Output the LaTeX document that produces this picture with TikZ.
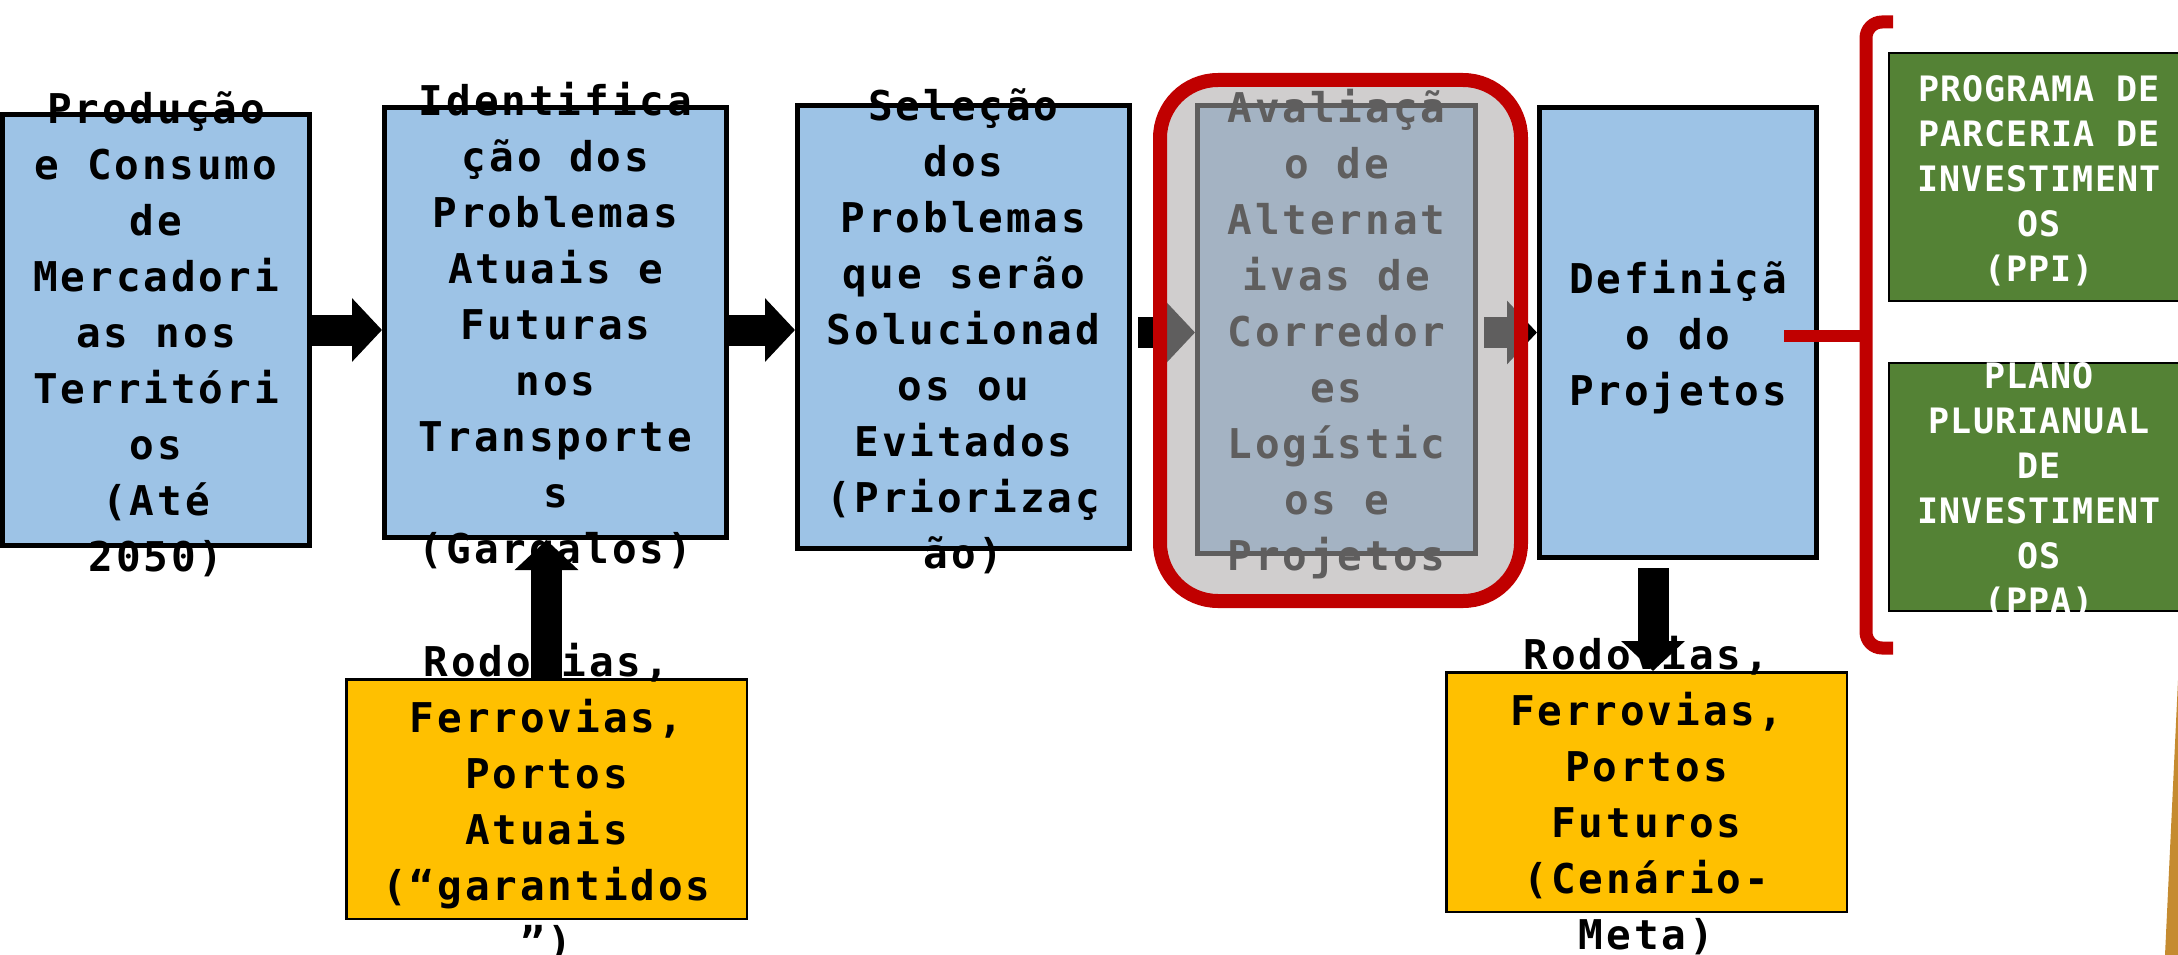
\documentclass[tikz,border=0pt]{standalone}
\usepackage{fontspec}
\usetikzlibrary{arrows.meta}
\newfontfamily\blkfont[LetterSpace=7.1]{DejaVu Sans Mono}
\newfontfamily\grnfont[LetterSpace=3.2]{DejaVu Sans Mono}
\definecolor{boxblue}{HTML}{9DC3E6}
\definecolor{boxorange}{HTML}{FFC000}
\definecolor{boxgreen}{HTML}{548235}
\definecolor{hlred}{HTML}{C00000}
\definecolor{veilc}{RGB}{171,168,168}
\definecolor{tanc}{RGB}{197,139,48}
\newcommand\bstrut{\vrule width0pt height44pt depth10pt\relax}
\newcommand\gstrut{\vrule width0pt height36pt depth8pt\relax}
\begin{document}
\begin{tikzpicture}[x=1pt,y=-1pt,
  shapebox/.style={rectangle, inner sep=0pt},
  bluebox/.style={shapebox, draw=black, line width=5pt, fill=boxblue},
  orangebox/.style={shapebox, draw=black, line width=2.5pt, fill=boxorange},
  greenbox/.style={shapebox, draw=black, line width=2pt, fill=boxgreen},
  veil/.style={shapebox, draw=hlred, line width=14pt, fill=veilc, fill opacity=0.56, rounded corners=58pt},
  btext/.style={inner sep=0pt, align=center, text=black, font=\blkfont\bfseries\fontsize{41}{56}\selectfont},
  gtext/.style={inner sep=0pt, align=center, text=white, font=\grnfont\bfseries\fontsize{35}{45}\selectfont},
  blockarrow/.style={draw=black, line width=31pt, -{Triangle[length=30pt, width=62pt]}},
  redline/.style={draw=hlred, line width=12pt},
  bracketline/.style={draw=hlred, line width=13pt, rounded corners=16pt},
]
\useasboundingbox (0,0) rectangle (2178,955);
\clip (0,0) rectangle (2178,955);

% blue process boxes
\node[bluebox, minimum width=307pt, minimum height=431pt] (b1) at (156,330) {};
\node[bluebox, minimum width=342pt, minimum height=430pt] (b2) at (555.5,322.5) {};
\node[bluebox, minimum width=332pt, minimum height=443pt] (b3) at (963.5,327) {};
\node[bluebox, minimum width=278pt, minimum height=448pt] (b4) at (1336.5,329.5) {};
\node[bluebox, minimum width=277pt, minimum height=450pt] (b5) at (1678,332.5) {};

\node[btext] (b1t) at (b1.center) {\bstrut Produção\\e Consumo\\de\\Mercadori\\as nos\\Territóri\\os\\(Até\\2050)\bstrut};
\node[btext] (b2t) at (b2.center) {\bstrut Identifica\\ção dos\\Problemas\\Atuais e\\Futuras\\nos\\Transporte\\s\\(Gargalos)\bstrut};
\node[btext] (b3t) at (b3.center) {\bstrut Seleção\\dos\\Problemas\\que serão\\Solucionad\\os ou\\Evitados\\(Priorizaç\\ão)\bstrut};
\node[btext] (b4t) at (b4.center) {\bstrut Avaliaçã\\o de\\Alternat\\ivas de\\Corredor\\es\\Logístic\\os e\\Projetos\bstrut};
\node[btext] (b5t) at (b5.center) {\bstrut Definiçã\\o do\\Projetos\bstrut};

% orange boxes
\node[orangebox, minimum width=400.5pt, minimum height=239.5pt] (o1) at (546.5,799) {};
\node[orangebox, minimum width=400.5pt, minimum height=239.5pt] (o2) at (1646.5,792) {};
\node[btext] (o1t) at (o1.center) {\bstrut Rodovias,\\Ferrovias,\\Portos\\Atuais\\(“garantidos\\”)\bstrut};
\node[btext] (o2t) at (o2.center) {\bstrut Rodovias,\\Ferrovias,\\Portos\\Futuros\\(Cenário-\\Meta)\bstrut};

% block arrows
\draw[blockarrow] (b1.east) -- (b1.east -| b2.west);
\draw[blockarrow] (b2.east |- b1.east) -- (b3.west |- b1.east);
\draw[blockarrow] ([xshift=6pt]b3.east |- b5.west) -- (b4.west |- b5.west);
\draw[blockarrow] ([xshift=6pt]b4.east |- b5.west) -- (b5.west);
\draw[blockarrow] (o1.north) -- (o1.north |- b2.south);
\draw[blockarrow] ([xshift=-25pt,yshift=-8pt]b5.south) -- ([xshift=-25pt]b5.south |- o2.north);

% highlight veil with red frame
\node[veil, minimum width=361pt, minimum height=521pt] (hl) at (1340.5,340.5) {};

% green boxes
\node[greenbox, minimum width=300pt, minimum height=248pt] (g1) at (2039,177) {};
\node[greenbox, minimum width=300pt, minimum height=248pt] (g2) at (2039,487) {};
\node[gtext] (g1t) at (g1.center) {\gstrut PROGRAMA DE\\PARCERIA DE\\INVESTIMENT\\OS\\(PPI)\gstrut};
\node[gtext] (g2t) at (g2.center) {\gstrut PLANO\\PLURIANUAL\\DE\\INVESTIMENT\\OS\\(PPA)\gstrut};

% bracket and connector
\coordinate (brm) at (1866,336);
\draw[bracketline] (1893,22) -- (1866,22) -- (1866,648) -- (1893,648);
\draw[redline] ([xshift=-35pt,yshift=-3.5pt]b5.east) -- (brm);

% partial shape at right edge
\fill[tanc] (2178,680) -- (2165,955) -- (2178,955) -- cycle;
\end{tikzpicture}
\end{document}
